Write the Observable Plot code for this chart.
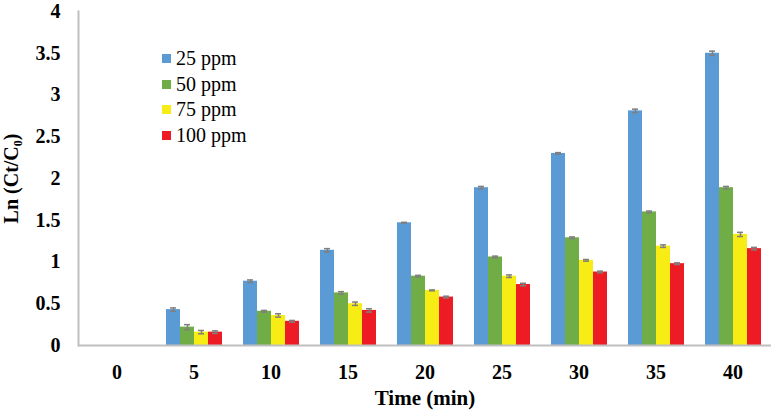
<!DOCTYPE html>
<html>
<head>
<meta charset="utf-8">
<script src="https://cdn.jsdelivr.net/npm/d3@7"></script>
<script src="https://cdn.jsdelivr.net/npm/@observablehq/plot@0.6"></script>
<style>
  body { margin: 0; background: #fff; }
  #wrap { position: relative; width: 773px; height: 414px; }
  #wrap svg text { font-family: "Liberation Serif", "Times New Roman", serif !important; }
  #legend { position: absolute; left: 162px; top: 46px; }
  #legend, #legend * { font-family: "Liberation Serif", "Times New Roman", serif !important; font-size: 20px !important; color: #000; }
  #legend > div { margin: 0 !important; min-height: 0 !important; }
  #legend [class$="-swatch"] { height: 25.5px; margin: 0 !important; padding: 0 !important; display: flex; align-items: center; }
  #legend [class$="-swatch"] svg { margin-right: 5px !important; }
</style>
</head>
<body>
<div id="wrap"><div id="legend"></div></div>
<script>
const times = [0, 5, 10, 15, 20, 25, 30, 35, 40];
const seriesNames = ["25 ppm", "50 ppm", "75 ppm", "100 ppm"];
const seriesColors = ["#5b9bd5", "#70ad47", "#f7ec13", "#ed1c24"];
const v25  = [0, 0.43, 0.77, 1.14, 1.47, 1.89, 2.30, 2.81, 3.50];
const v50  = [0, 0.22, 0.41, 0.63, 0.83, 1.06, 1.29, 1.60, 1.89];
const v75  = [0, 0.16, 0.36, 0.50, 0.66, 0.83, 1.02, 1.19, 1.33];
const v100 = [0, 0.16, 0.29, 0.42, 0.58, 0.73, 0.88, 0.98, 1.16];
const e25  = [0, 0.02, 0.015, 0.02, 0.005, 0.015, 0.01, 0.02, 0.025];
const e50  = [0, 0.03, 0.01, 0.015, 0.01, 0.01, 0.01, 0.01, 0.015];
const e75  = [0, 0.02, 0.02, 0.02, 0.005, 0.015, 0.01, 0.015, 0.025];
const e100 = [0, 0.015, 0.01, 0.02, 0.01, 0.015, 0.01, 0.01, 0.015];
const yTicks = [0, 0.5, 1, 1.5, 2, 2.5, 3, 3.5, 4];

const values = [v25, v50, v75, v100];
const errors = [e25, e50, e75, e100];
const data = [];
times.forEach((t, i) => seriesNames.forEach((s, k) => data.push({time: t, series: s, v: values[k][i], e: errors[k][i]})));
const errData = data.filter(d => d.e > 0);

const chart = Plot.plot({
  width: 773,
  height: 414,
  marginLeft: 77,
  marginRight: 1,
  marginTop: 11,
  marginBottom: 69,
  style: {fontFamily: "Liberation Serif", fontSize: "20px", fontWeight: "bold", color: "#000", background: "#fff"},
  fx: {domain: times, padding: 0, label: null},
  x: {domain: seriesNames, axis: null, paddingInner: 0, paddingOuter: 0.75},
  y: {domain: [0, 4]},
  color: {domain: seriesNames, range: seriesColors},
  marks: [
    Plot.barY(data, {fx: "time", x: "series", y: "v", fill: "series"}),
    Plot.ruleX(errData, {fx: "time", x: "series", y1: d => d.v - d.e, y2: d => d.v + d.e, stroke: "#7f7f7f", strokeWidth: 1.5}),
    Plot.tickY(errData, {fx: "time", x: "series", y: d => d.v + d.e, stroke: "#7f7f7f", strokeWidth: 1.5, inset: 4}),
    Plot.tickY(errData, {fx: "time", x: "series", y: d => d.v - d.e, stroke: "#7f7f7f", strokeWidth: 1.5, inset: 4}),
    Plot.ruleY([0], {stroke: "#bfbfbf", strokeWidth: 2}),
    Plot.frame({anchor: "left", facetAnchor: "left", stroke: "#bfbfbf", strokeWidth: 2}),
    Plot.axisY({ticks: yTicks, tickFormat: d => String(d), tickSize: 0, tickPadding: 18, fontSize: 20, label: null}),
    Plot.axisY({ticks: [], tickSize: 0, label: "Ln (Ct/C₀)", labelAnchor: "center", labelArrow: "none", labelOffset: 75, fontSize: 20}),
    Plot.axisFx({anchor: "bottom", tickSize: 0, tickPadding: 19, fontSize: 20, label: null}),
    Plot.axisFx({anchor: "bottom", ticks: [], tickSize: 0, label: "Time (min)", labelAnchor: "center", labelArrow: "none", labelOffset: 59, fontSize: 21})
  ]
});
document.getElementById("wrap").prepend(chart);

const legend = Plot.legend({
  color: {domain: seriesNames, range: seriesColors},
  legend: "swatches",
  columns: 1,
  swatchSize: 9,
  style: {fontFamily: "Liberation Serif", fontSize: "20px", color: "#000"}
});
document.getElementById("legend").appendChild(legend);
</script>
</body>
</html>
